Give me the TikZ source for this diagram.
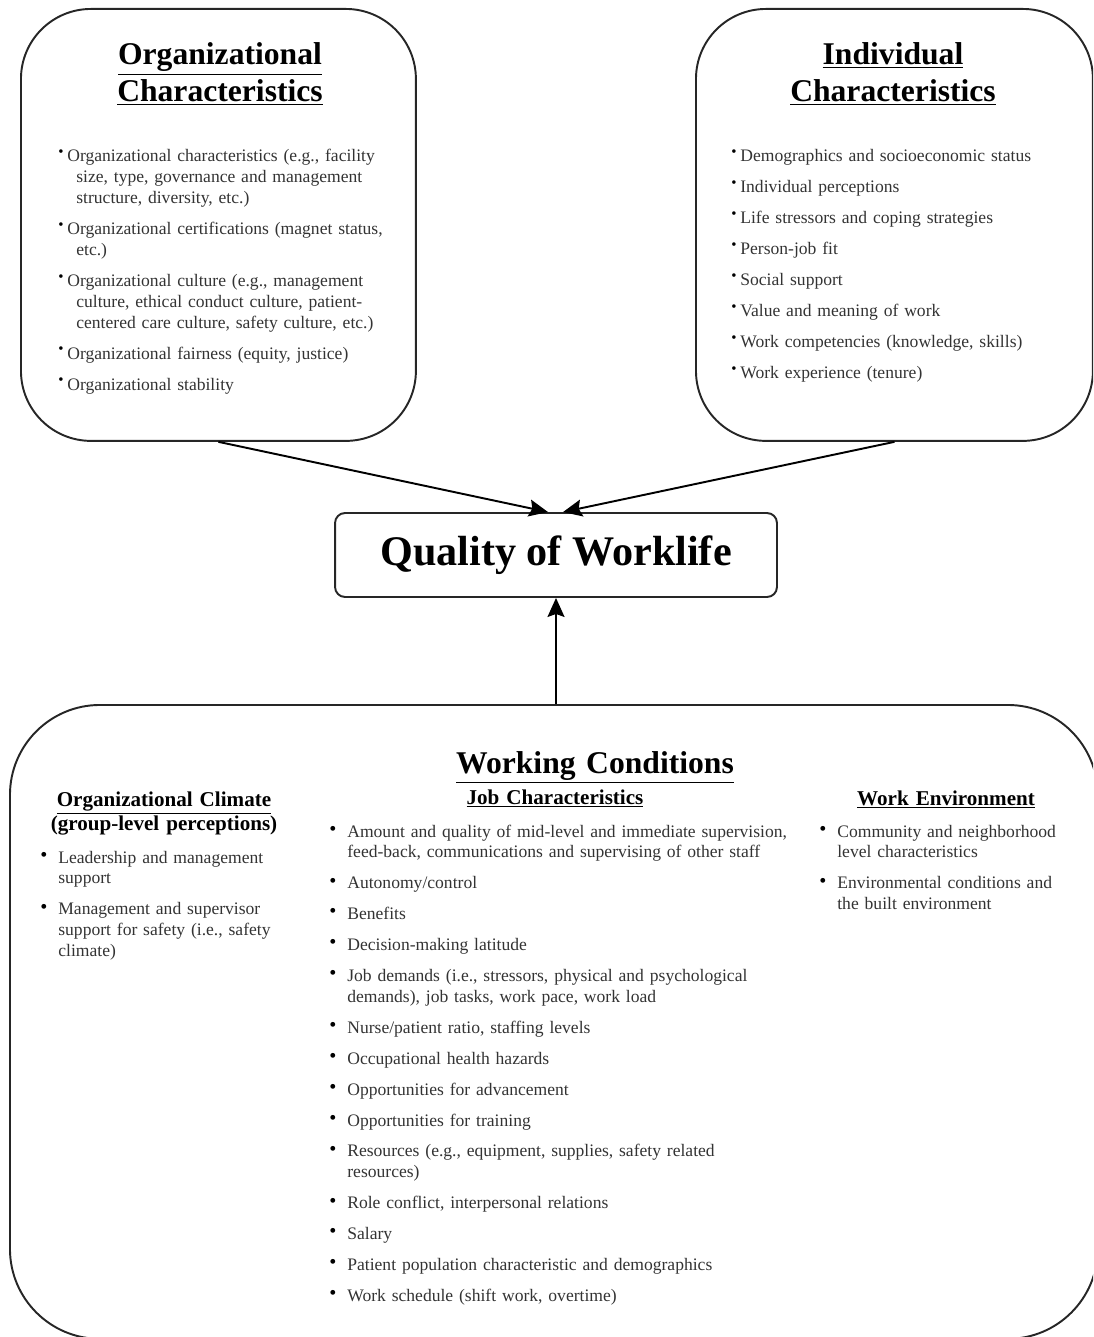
\documentclass[tikz,border=0pt]{standalone}
\usepackage{fontspec}
\setmainfont{Liberation Serif}
\usepackage{graphicx}
\usetikzlibrary{positioning,arrows.meta}
\tikzset{bigbox/.style={draw=black!85,line width=1.1pt,rectangle,rounded corners=1.4cm,anchor=north west},
title/.style={font=\fontsize{18}{21}\selectfont\bfseries,align=center,text width=8cm,inner sep=0pt,anchor=base},
subtitle/.style={font=\fontsize{12}{12.5}\selectfont\bfseries,align=center,text width=6cm,inner sep=0pt,anchor=base},
list/.style={font=\fontsize{10}{11.9}\selectfont,text=black!80,align=left,inner sep=0pt,anchor=base west}}
\tikzstyle{arrow} = [line width=1.1pt,-{Stealth[length=0.38cm,width=0.34cm,inset=0.06cm]}]
% bullets of the two upper boxes, and of the lower box
\newcommand{\tbul}[1]{\hangindent=0.36cm\hangafter=1\noindent\makebox[0.18cm][l]{\raisebox{0.3em}{\scalebox{0.85}{\color{black}\textbullet}}}#1\par\vspace{0.2cm}}
\newcommand{\wcitem}[1]{\hangindent=0.36cm\hangafter=1\noindent\makebox[0.36cm][l]{\raisebox{0.1em}{\scalebox{1.15}{\color{black}\textbullet}}}#1\par\vspace{0.2cm}}
\begin{document}
\begin{tikzpicture}[x=0.02cm,y=-0.02cm]
\clip (0,0) rectangle (1093,1337);
% the four boxes
\node[bigbox,minimum width=7.9cm,minimum height=8.64cm] (org) at (20,8) {};
\node[bigbox,minimum width=7.94cm,minimum height=8.64cm] (ind) at (695,8) {};
\node[bigbox,rounded corners=0.2cm,anchor=center,minimum width=8.84cm,minimum height=1.68cm,
      font=\fontsize{24}{28}\selectfont\bfseries] (qwl) at (556,555) {Quality of Worklife};
\node[bigbox,rounded corners=1.8cm,minimum width=21.76cm,minimum height=12.68cm] (wc) at (9,704) {};

% upper boxes
\node[title] (orgtitle) at (220,65) {\underline{Organizational}\\\underline{Characteristics}};
\node[list,text width=7cm] (orglist) at (58,162) {%
\tbul{Organizational characteristics (e.g., facility\newline size, type, governance and management\newline structure, diversity, etc.)}
\tbul{Organizational certifications (magnet status,\newline etc.)}
\tbul{Organizational culture (e.g., management\newline culture, ethical conduct culture, patient-\newline centered care culture, safety culture, etc.)}
\tbul{Organizational fairness (equity, justice)}
\tbul{Organizational stability}};

\node[title] (indtitle) at (893,65) {\underline{Individual}\\\underline{Characteristics}};
\node[list,text width=7cm] (indlist) at (731,162) {%
\tbul{Demographics and socioeconomic status}
\tbul{Individual perceptions}
\tbul{Life stressors and coping strategies}
\tbul{Person-job fit}
\tbul{Social support}
\tbul{Value and meaning of work}
\tbul{Work competencies (knowledge, skills)}
\tbul{Work experience (tenure)}};

% lower box
\node[title] (wctitle) at (595,773) {\underline{Working Conditions}};
\node[subtitle] (climtitle) at (164,806) {\underline{Organizational Climate}\\(group-level perceptions)};
\node[subtitle] (jobtitle) at (555,804) {\underline{Job Characteristics}};
\node[subtitle] (envtitle) at (946,805) {\underline{Work Environment}};

\node[list,text width=5.4cm] (climlist) at (40,863) {%
\wcitem{Leadership and management\newline support}
\wcitem{Management and supervisor\newline support for safety (i.e., safety\newline climate)}};

\node[list,text width=9.6cm] (joblist) at (329,837) {%
\wcitem{Amount and quality of mid-level and immediate supervision,\newline feed-back, communications and supervising of other staff}
\wcitem{Autonomy/control}
\wcitem{Benefits}
\wcitem{Decision-making latitude}
\wcitem{Job demands (i.e., stressors, physical and psychological\newline demands), job tasks, work pace, work load}
\wcitem{Nurse/patient ratio, staffing levels}
\wcitem{Occupational health hazards}
\wcitem{Opportunities for advancement}
\wcitem{Opportunities for training}
\wcitem{Resources (e.g., equipment, supplies, safety related\newline resources)}
\wcitem{Role conflict, interpersonal relations}
\wcitem{Salary}
\wcitem{Patient population characteristic and demographics}
\wcitem{Work schedule (shift work, overtime)}};

\node[list,text width=5.2cm] (envlist) at (819,837) {%
\wcitem{Community and neighborhood\newline level characteristics}
\wcitem{Environmental conditions and\newline the built environment}};

% arrows
\draw[arrow] (org.south) -- ([xshift=-0.16cm]qwl.north);
\draw[arrow] (ind.south) -- ([xshift=0.14cm]qwl.north);
\draw[arrow] (wc.north -| qwl.south) -- (qwl.south);
\end{tikzpicture}
\end{document}
